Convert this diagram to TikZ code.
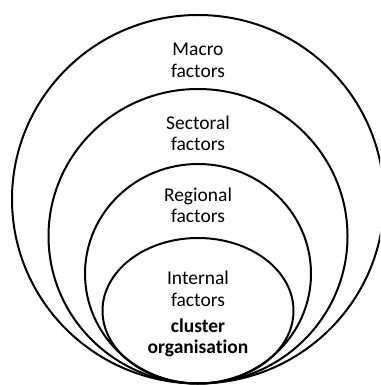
\documentclass[tikz,border=0pt]{standalone}
\usepackage{fontspec}
\setmainfont{Carlito}[Ligatures=NoCommon]
\usepackage{tikz}
\usetikzlibrary{positioning}

\begin{document}
\begin{tikzpicture}[x=1pt, y=1pt, line width=2pt,
    ring label/.style={font=\fontsize{19.5}{21.5}\selectfont, align=center, inner sep=0pt},
    core label/.style={ring label, font=\fontsize{19.5}{21}\selectfont\bfseries}]
    \useasboundingbox (0,0) rectangle (380,385);
    \clip (0,0) rectangle (380,385);

    % Nested rings, all touching at the bottom point
    % centre y / x radius / y radius
    \foreach \cy/\rx/\ry in {185.75/186/184.25, 148.75/149.5/147.25,
                             111.25/113/109.75, 74.25/95.5/72.75} {
        \draw (198,\cy) ellipse [x radius=\rx, y radius=\ry];
    }

    % Ring labels
    \node[ring label] (macro)    at (198,324.5) {Macro\\factors};
    \node[ring label] (sectoral) at (198,251.5) {Sectoral\\factors};
    \node[ring label] (regional) at (198,179.5) {Regional\\factors};
    \node[ring label] (internal) at (198,96)    {Internal\\factors};
    \node[core label] (cluster)  at (198,47)    {cluster\\organisation};
\end{tikzpicture}
\end{document}
